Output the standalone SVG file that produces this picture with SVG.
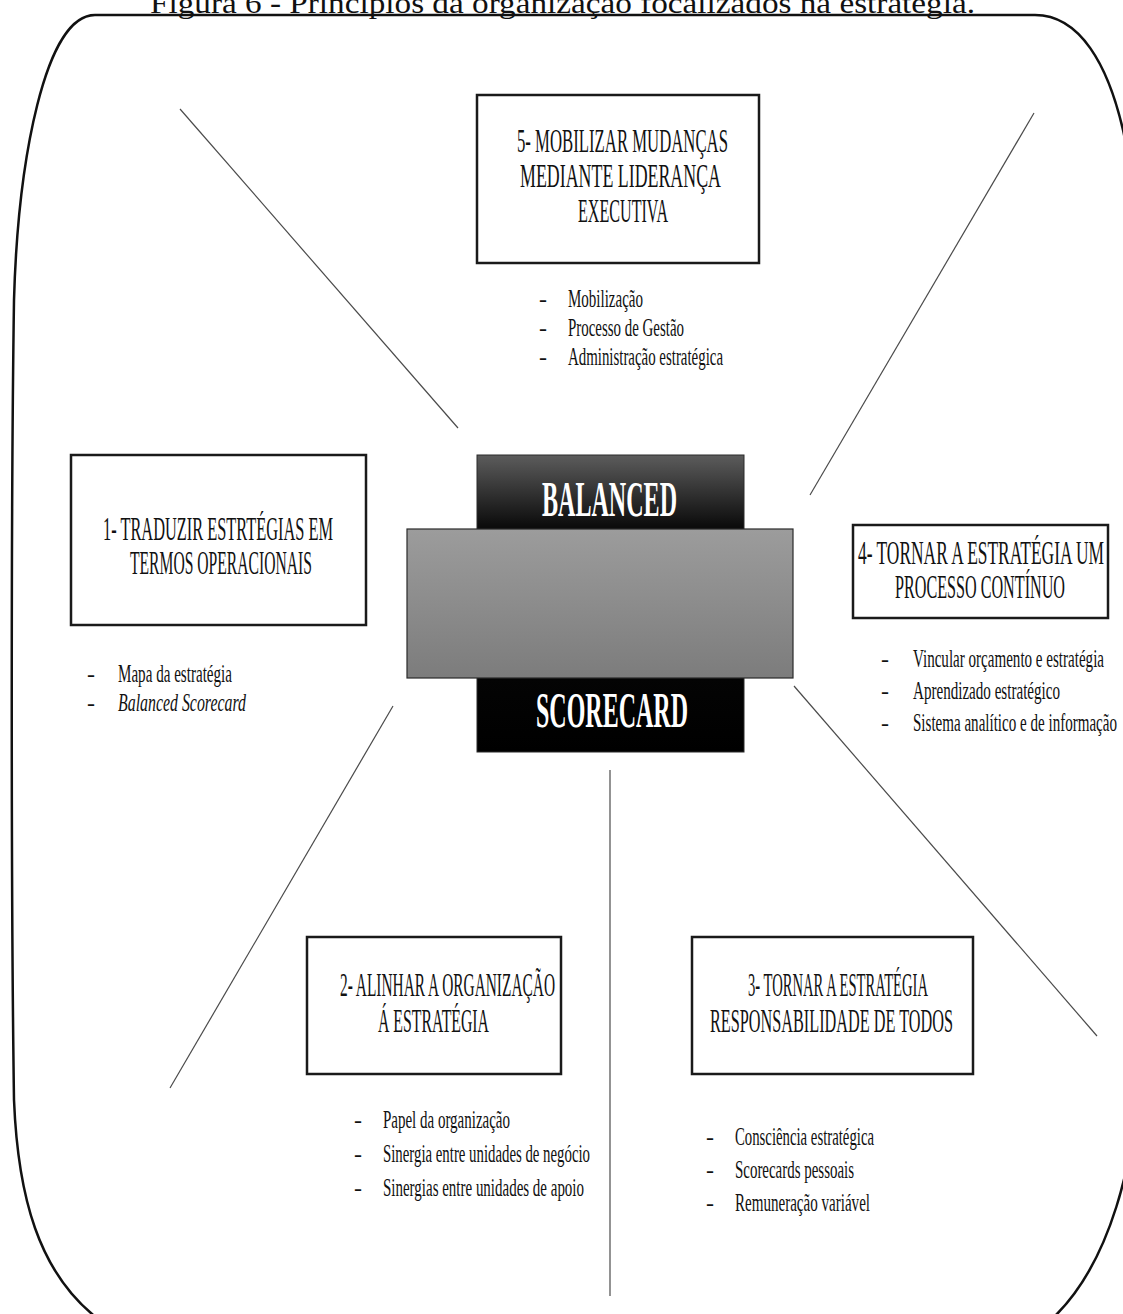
<svg xmlns="http://www.w3.org/2000/svg" width="1123" height="1314" viewBox="0 0 1123 1314">
  <defs>
    <linearGradient id="darkBand" x1="0" y1="0" x2="0" y2="1">
      <stop offset="0" stop-color="#5c5c5c"/>
      <stop offset="0.24" stop-color="#0c0c0c"/>
      <stop offset="1" stop-color="#000"/>
    </linearGradient>
    <linearGradient id="greyBand" x1="0" y1="0" x2="0" y2="1">
      <stop offset="0" stop-color="#9c9c9c"/>
      <stop offset="1" stop-color="#7c7c7c"/>
    </linearGradient>
    <style>
      .frame { fill: none; stroke: #111; stroke-width: 2.5; }
      .box { fill: #fff; stroke: #1a1a1a; stroke-width: 2.5; }
      .link { stroke: #4a4a4a; stroke-width: 1.2; fill: none; }
      .serif { font-family: "Liberation Serif", "Times New Roman", serif; fill: #111; }
      .head { font-size: 33px; }
      .item { font-size: 25px; }
      .dash { font-size: 24px; }
      .core { font-family: "Liberation Serif", "Times New Roman", serif; font-weight: bold; font-size: 50px; fill: #fff; }
    </style>
  </defs>

  <rect width="1123" height="1314" fill="#fff"/>

  <!-- caption, clipped by the top of the page -->
  <text class="serif" x="150" y="13" font-size="30" textLength="825" lengthAdjust="spacingAndGlyphs">Figura 6 - Princípios da organização focalizados na estratégia.</text>

  <!-- rounded outer frame -->
  <path class="frame" d="M 95,15 H 1035 C 1080,15 1108,65 1123,130 C 1132,170 1136,230 1136,300 V 1080 C 1136,1160 1110,1260 1057,1314 L 1040,1330 H 110 L 92,1314 C 40,1270 18,1200 14,1100 C 11,900 11,500 14,300 C 18,160 45,15 95,15 Z"/>

  <!-- connectors radiating from the centre -->
  <g id="connectors">
    <line class="link" x1="180" y1="109" x2="458" y2="428"/>
    <line class="link" x1="1034" y1="113" x2="810" y2="495"/>
    <line class="link" x1="393" y1="706" x2="170" y2="1088"/>
    <line class="link" x1="794" y1="686" x2="1097" y2="1036"/>
    <line class="link" x1="610" y1="770" x2="610" y2="1296"/>
  </g>

  <!-- centre: Balanced Scorecard -->
  <g id="center">
    <rect x="477" y="455" width="267" height="297" fill="url(#darkBand)" stroke="#2a2a2a" stroke-width="1"/>
    <rect x="407" y="529" width="386" height="149" fill="url(#greyBand)" stroke="#2a2a2a" stroke-width="1.2"/>
    <text class="core" x="542" y="516" textLength="135" lengthAdjust="spacingAndGlyphs">BALANCED</text>
    <text class="core" x="536" y="727" textLength="152" lengthAdjust="spacingAndGlyphs">SCORECARD</text>
  </g>

  <!-- 5: executive leadership -->
  <g id="node5">
    <rect class="box" x="477" y="95" width="282" height="168"/>
    <text class="serif head" x="517" y="152" textLength="211" lengthAdjust="spacingAndGlyphs">5- MOBILIZAR MUDANÇAS</text>
    <text class="serif head" x="520" y="187" textLength="201" lengthAdjust="spacingAndGlyphs">MEDIANTE LIDERANÇA</text>
    <text class="serif head" x="578" y="222" textLength="90" lengthAdjust="spacingAndGlyphs">EXECUTIVA</text>
    <text class="serif dash" x="539" y="307">-</text>
    <text class="serif dash" x="539" y="336">-</text>
    <text class="serif dash" x="539" y="365">-</text>
    <text class="serif item" x="568" y="307" textLength="75" lengthAdjust="spacingAndGlyphs">Mobilização</text>
    <text class="serif item" x="568" y="336" textLength="116" lengthAdjust="spacingAndGlyphs">Processo de Gestão</text>
    <text class="serif item" x="568" y="365" textLength="155" lengthAdjust="spacingAndGlyphs">Administração estratégica</text>
  </g>

  <!-- 1: translate strategy -->
  <g id="node1">
    <rect class="box" x="71" y="455" width="295" height="170"/>
    <text class="serif head" x="103" y="540" textLength="230" lengthAdjust="spacingAndGlyphs">1- TRADUZIR ESTRTÉGIAS EM</text>
    <text class="serif head" x="130" y="574" textLength="182" lengthAdjust="spacingAndGlyphs">TERMOS OPERACIONAIS</text>
    <text class="serif dash" x="87" y="682">-</text>
    <text class="serif dash" x="87" y="711">-</text>
    <text class="serif item" x="118" y="682" textLength="114" lengthAdjust="spacingAndGlyphs">Mapa da estratégia</text>
    <text class="serif item" x="118" y="711" font-style="italic" textLength="128" lengthAdjust="spacingAndGlyphs">Balanced Scorecard</text>
  </g>

  <!-- 4: continuous process -->
  <g id="node4">
    <rect class="box" x="853" y="525" width="255" height="93"/>
    <text class="serif head" x="858" y="564" textLength="246" lengthAdjust="spacingAndGlyphs">4- TORNAR A ESTRATÉGIA UM</text>
    <text class="serif head" x="895" y="598" textLength="170" lengthAdjust="spacingAndGlyphs">PROCESSO CONTÍNUO</text>
    <text class="serif dash" x="881" y="667">-</text>
    <text class="serif dash" x="881" y="699">-</text>
    <text class="serif dash" x="881" y="731">-</text>
    <text class="serif item" x="913" y="667" textLength="191" lengthAdjust="spacingAndGlyphs">Vincular orçamento e estratégia</text>
    <text class="serif item" x="913" y="699" textLength="147" lengthAdjust="spacingAndGlyphs">Aprendizado estratégico</text>
    <text class="serif item" x="913" y="731" textLength="204" lengthAdjust="spacingAndGlyphs">Sistema analítico e de informação</text>
  </g>

  <!-- 2: align the organisation -->
  <g id="node2">
    <rect class="box" x="307" y="937" width="254" height="137"/>
    <text class="serif head" x="340" y="996" textLength="215" lengthAdjust="spacingAndGlyphs">2- ALINHAR A ORGANIZAÇÃO</text>
    <text class="serif head" x="378" y="1032" textLength="111" lengthAdjust="spacingAndGlyphs">Á ESTRATÉGIA</text>
    <text class="serif dash" x="354" y="1128">-</text>
    <text class="serif dash" x="354" y="1162">-</text>
    <text class="serif dash" x="354" y="1196">-</text>
    <text class="serif item" x="383" y="1128" textLength="127" lengthAdjust="spacingAndGlyphs">Papel da organização</text>
    <text class="serif item" x="383" y="1162" textLength="207" lengthAdjust="spacingAndGlyphs">Sinergia entre unidades de negócio</text>
    <text class="serif item" x="383" y="1196" textLength="201" lengthAdjust="spacingAndGlyphs">Sinergias entre unidades de apoio</text>
  </g>

  <!-- 3: everyone's responsibility -->
  <g id="node3">
    <rect class="box" x="692" y="937" width="281" height="137"/>
    <text class="serif head" x="748" y="996" textLength="180" lengthAdjust="spacingAndGlyphs">3- TORNAR A ESTRATÉGIA</text>
    <text class="serif head" x="710" y="1032" textLength="243" lengthAdjust="spacingAndGlyphs">RESPONSABILIDADE DE TODOS</text>
    <text class="serif dash" x="706" y="1145">-</text>
    <text class="serif dash" x="706" y="1178">-</text>
    <text class="serif dash" x="706" y="1211">-</text>
    <text class="serif item" x="735" y="1145" textLength="139" lengthAdjust="spacingAndGlyphs">Consciência estratégica</text>
    <text class="serif item" x="735" y="1178" textLength="119" lengthAdjust="spacingAndGlyphs">Scorecards pessoais</text>
    <text class="serif item" x="735" y="1211" textLength="135" lengthAdjust="spacingAndGlyphs">Remuneração variável</text>
  </g>
</svg>
